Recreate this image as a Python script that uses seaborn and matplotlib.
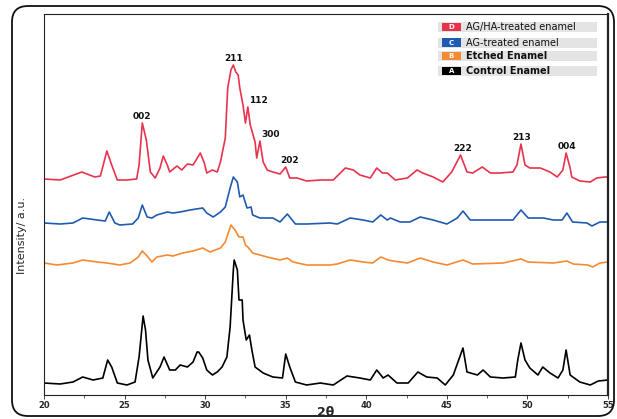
import matplotlib
matplotlib.use("Agg")
import matplotlib.pyplot as plt
from matplotlib.patches import FancyBboxPatch, Rectangle
from matplotlib.transforms import IdentityTransform
from matplotlib.ticker import MultipleLocator
import seaborn as sns
import pandas as pd

# XRD patterns: 2-theta (deg) and intensity (a.u., above own baseline)
red_x = [20.0, 21.0, 22.35, 23.15, 23.5, 23.9, 24.2, 24.55, 25.15, 25.75, 25.9, 26.1, 26.35, 26.6,
         26.9, 27.2, 27.4, 27.65, 27.8, 28.25, 28.55, 28.9, 29.25, 29.7, 29.95, 30.1, 30.45, 30.75,
         30.95, 31.25, 31.4, 31.6, 31.75, 31.9, 32.05, 32.15, 32.35, 32.5, 32.65, 32.8, 33.1, 33.2,
         33.4, 33.6, 33.85, 34.2, 34.65, 35.0, 35.25, 35.7, 36.3, 37.15, 37.95, 38.7, 39.2, 39.6,
         40.25, 40.65, 41.0, 41.3, 41.8, 42.55, 43.15, 43.5, 44.15, 44.75, 45.3, 45.85, 46.25, 46.6,
         47.2, 47.7, 48.3, 49.1, 49.35, 49.6, 49.85, 50.15, 50.8, 51.4, 51.85, 52.2, 52.4, 52.65,
         52.75, 53.25, 53.9, 54.3, 54.8, 55.0]
red_y = [6, 5, 13, 8, 9, 34, 20, 5, 5, 6, 20, 62, 45, 13,
         7, 17, 29, 20, 13, 19, 15, 21, 20, 32, 22, 12, 15, 13,
         23, 47, 97, 115, 120, 113, 110, 97, 80, 62, 78, 60, 43, 27,
         44, 23, 15, 13, 11, 18, 7, 7, 4, 5, 5, 17, 15, 10,
         7, 17, 12, 12, 5, 7, 15, 12, 8, 3, 13, 30, 13, 12,
         18, 12, 12, 13, 20, 41, 20, 17, 17, 13, 8, 15, 32, 17,
         8, 4, 3, 7, 8, 8]

blue_x = [20.0, 21.0, 21.8, 22.4, 23.3, 23.8, 24.05, 24.4, 24.7, 25.5, 25.85, 26.1, 26.4, 26.7,
          27.0, 27.65, 28.0, 28.45, 29.05, 29.85, 30.1, 30.5, 30.95, 31.25, 31.55, 31.75, 32.0,
          32.15, 32.35, 32.6, 32.85, 32.95, 33.4, 34.2, 34.65, 35.1, 35.6, 36.3, 37.75, 38.2, 39.0,
          39.8, 40.4, 40.9, 41.3, 41.5, 42.1, 42.7, 43.35, 44.15, 45.0, 45.65, 46.0, 46.45, 47.5,
          49.1, 49.6, 50.05, 51.0, 51.6, 52.15, 52.45, 52.8, 53.7, 54.0, 54.5, 55.0]
blue_y = [5, 4, 5, 10, 8, 7, 16, 5, 3, 4, 10, 23, 11, 10,
          13, 16, 15, 16, 18, 20, 15, 11, 16, 21, 40, 51, 46,
          31, 33, 20, 21, 13, 10, 10, 6, 14, 4, 4, 5, 4, 10,
          8, 6, 13, 8, 10, 6, 6, 11, 8, 4, 10, 17, 8, 8,
          8, 18, 10, 10, 8, 8, 15, 6, 5, 2, 6, 6]

orange_x = [20.0, 20.8, 21.8, 22.4, 23.3, 23.9, 24.7, 25.35, 25.85, 26.1, 26.4, 26.7, 27.0, 27.65,
            28.0, 28.6, 29.25, 29.85, 30.3, 30.95, 31.25, 31.6, 31.85, 32.1, 32.35, 32.5, 32.65,
            32.95, 33.85, 34.65, 35.1, 35.45, 36.3, 37.75, 38.2, 39.0, 39.8, 40.4, 40.9, 41.35,
            41.65, 42.55, 43.35, 44.15, 45.0, 46.0, 46.6, 48.5, 49.6, 50.05, 51.6, 52.45, 52.85,
            53.75, 54.05, 54.5, 55.0]
orange_y = [5, 3, 5, 8, 6, 5, 3, 5, 11, 17, 12, 6, 11, 13,
            12, 15, 17, 20, 16, 20, 26, 43, 38, 31, 31, 23, 21,
            15, 11, 8, 10, 6, 3, 3, 4, 8, 6, 5, 11, 8,
            7, 5, 10, 6, 3, 8, 4, 5, 9, 6, 5, 7, 4,
            3, 1, 5, 6]

black_x = [20.0, 21.0, 21.8, 22.4, 23.05, 23.65, 23.95, 24.2, 24.55, 25.15, 25.65, 25.9, 26.15,
           26.3, 26.45, 26.75, 27.2, 27.45, 27.8, 28.15, 28.45, 28.9, 29.25, 29.5, 29.6, 29.85,
           30.1, 30.45, 30.75, 31.05, 31.35, 31.55, 31.75, 31.8, 32.0, 32.1, 32.3, 32.35, 32.55,
           32.75, 32.9, 33.1, 33.6, 34.2, 34.8, 35.0, 35.25, 35.6, 36.3, 37.15, 37.95, 38.8, 39.6,
           40.25, 40.65, 41.05, 41.35, 41.9, 42.6, 43.2, 43.75, 44.4, 44.9, 45.4, 45.8, 46.0,
           46.25, 46.9, 47.25, 47.7, 48.5, 49.25, 49.4, 49.6, 49.85, 50.15, 50.65, 50.95, 51.4,
           51.9, 52.2, 52.4, 52.65, 53.25, 53.9, 54.4, 55.0]
black_y = [4, 3, 5, 10, 7, 9, 27, 20, 4, 2, 5, 30, 71,
           57, 27, 9, 20, 30, 17, 17, 22, 20, 25, 35, 35, 29,
           17, 12, 15, 20, 30, 60, 117, 127, 117, 87, 87, 67, 47,
           52, 37, 20, 14, 10, 9, 33, 20, 5, 2, 4, 2, 11, 9,
           7, 17, 9, 12, 4, 4, 15, 10, 9, 2, 12, 30, 39,
           15, 12, 17, 10, 9, 10, 27, 44, 27, 19, 12, 20, 14,
           9, 17, 37, 12, 5, 2, 6, 7]

series_names = ["AG/HA-treated enamel", "AG-treated enamel", "Etched Enamel", "Control Enamel"]
series_letters = ["D", "C", "B", "A"]
series_colors = ["#e8334d", "#1f5bb0", "#f58a33", "#000000"]
series_offsets = [210, 167, 127, 8]

# Miller indices on the top pattern
hkl_labels = ["002", "211", "112", "300", "202", "222", "213", "004"]
hkl_peak_x = [26.1, 31.75, 32.65, 33.4, 35.0, 45.85, 49.6, 52.4]
hkl_label_x = [26.1, 31.75, 33.3, 34.05, 35.25, 46.0, 49.65, 52.45]

xs = [red_x, blue_x, orange_x, black_x]
ys = [red_y, blue_y, orange_y, black_y]

frames = []
for name, x, y, off in zip(series_names, xs, ys, series_offsets):
    frames.append(pd.DataFrame({"two_theta": x, "intensity": [v + off for v in y], "sample": name}))
df = pd.concat(frames, ignore_index=True)

sns.set_style("ticks")
plt.rcParams["font.family"] = ["DejaVu Sans"]

fig = plt.figure(figsize=(6.17, 4.19), dpi=100)
ax = fig.add_axes([44 / 617, 24 / 419, 564 / 617, 381 / 419])

sns.lineplot(data=df, x="two_theta", y="intensity", hue="sample", palette=series_colors,
             hue_order=series_names, sort=False, estimator=None, linewidth=1.2,
             legend=False, ax=ax)

ax.set_xlim(20, 55)
ax.set_ylim(0, 381)
ax.set_yticks([])
ax.xaxis.set_major_locator(MultipleLocator(5))
ax.xaxis.set_minor_locator(MultipleLocator(2.5))
ax.tick_params(axis="x", which="major", direction="out", length=3, width=0.6, pad=1,
               labelsize=6)
ax.tick_params(axis="x", which="minor", direction="out", length=2, width=0.5)
for lab in ax.get_xticklabels():
    lab.set_fontweight("bold")
for s in ax.spines.values():
    s.set_linewidth(0.8)
    s.set_color("#222222")
ax.spines["right"].set_linewidth(1.6)
ax.set_xlabel("")
ax.set_ylabel("")

fig.text(326 / 617, 1 - 412 / 419, "2θ", ha="center", va="center", fontsize=9, fontweight="bold")
fig.text(22 / 617, 1 - 235 / 419, "Intensity/ a.u.", rotation=90, ha="center", va="center",
         fontsize=8)

# peak labels sit just above the red trace maxima
for lab, px, lx in zip(hkl_labels, hkl_peak_x, hkl_label_x):
    i = red_x.index(px)
    ax.text(lx, red_y[i] + series_offsets[0] + 2, lab, ha="center", va="bottom",
            fontsize=6.5, fontweight="bold", color="#111111")

# hand-drawn legend boxes
row_y = [0.966, 0.925, 0.889, 0.851]
for k, (name, letter, col) in enumerate(zip(series_names, series_letters, series_colors)):
    yc = row_y[k]
    ax.add_patch(Rectangle((0.699, yc - 0.013), 0.281, 0.026, transform=ax.transAxes,
                           facecolor="#e4e4e4", edgecolor="none", zorder=3))
    ax.add_patch(Rectangle((0.705, yc - 0.011), 0.035, 0.022, transform=ax.transAxes,
                           facecolor=col, edgecolor="none", zorder=4))
    ax.text(0.7225, yc, letter, transform=ax.transAxes, ha="center", va="center",
            fontsize=5, color="white", fontweight="bold", zorder=5)
    bold = "bold" if k >= 2 else "normal"
    ax.text(0.748, yc, name, transform=ax.transAxes, ha="left", va="center",
            fontsize=7, fontweight=bold, color="#111111", zorder=5)

# rounded outer frame
frame = FancyBboxPatch((12, 3), 602, 410, boxstyle="round,pad=0,rounding_size=16",
                       transform=IdentityTransform(), facecolor="none", edgecolor="#111111",
                       linewidth=1.3)
fig.add_artist(frame)

fig.savefig("out.png", dpi=100)
